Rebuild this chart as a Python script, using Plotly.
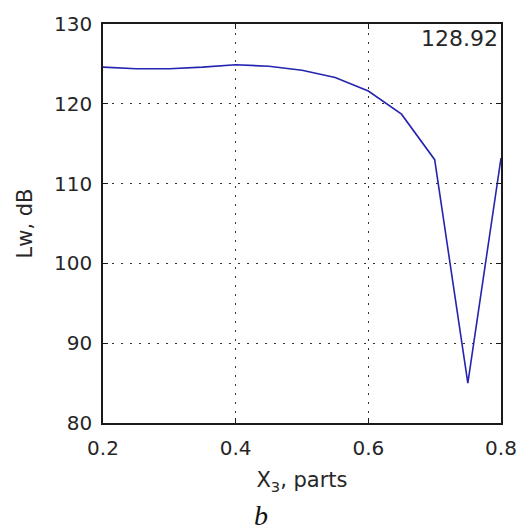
import plotly.graph_objects as go

# Sound power level versus the X3 fraction
x3_parts = [0.2, 0.25, 0.3, 0.35, 0.4, 0.45, 0.5, 0.55, 0.6, 0.65, 0.7, 0.75, 0.8]
lw_db = [124.6, 124.4, 124.4, 124.6, 124.9, 124.7, 124.2, 123.3, 121.6, 118.7, 113.0, 85.0, 113.2]

x_ticks = [0.2, 0.4, 0.6, 0.8]
y_ticks = [80, 90, 100, 110, 120, 130]
peak_label = "128.92"

FONT = "DejaVu Sans"
TEXT_COLOR = "#262626"

fig = go.Figure()
fig.add_trace(go.Scatter(
    x=x3_parts, y=lw_db, mode="lines",
    line=dict(color="#2424b0", width=1.6),
    showlegend=False,
))

axis_common = dict(
    showline=True, linecolor="#1a1a1a", linewidth=1.6, mirror="ticks",
    ticks="inside", ticklen=5, tickcolor="#1a1a1a", tickwidth=1.2,
    showgrid=True, gridcolor="#333333", gridwidth=1, griddash="2px,7px",
    zeroline=False,
    tickfont=dict(family=FONT, size=20, color=TEXT_COLOR),
)

fig.update_xaxes(
    range=[0.2, 0.8], tickvals=x_ticks, ticktext=[f"{v:g}" for v in x_ticks],
    ticklabelstandoff=6,
    title=dict(text="X<sub>3</sub>, parts", font=dict(family=FONT, size=21, color=TEXT_COLOR), standoff=14),
    **axis_common,
)
fig.update_yaxes(
    range=[80, 130], tickvals=y_ticks,
    ticklabelstandoff=5,
    title=dict(text="Lw, dB", font=dict(family=FONT, size=21, color=TEXT_COLOR), standoff=16),
    **axis_common,
)

fig.add_annotation(
    xref="paper", yref="paper", x=1, y=1, xanchor="right", yanchor="top",
    text=peak_label, showarrow=False, xshift=-1, yshift=0,
    font=dict(family=FONT, size=22, color=TEXT_COLOR),
)
fig.add_annotation(
    xref="paper", yref="paper", x=0.396, y=-0.233, xanchor="center", yanchor="middle",
    text="<i>b</i>", showarrow=False,
    font=dict(family="Liberation Serif", size=28, color="#111111"),
)

fig.update_layout(
    width=529, height=531,
    margin=dict(l=103, r=24, t=20, b=108),
    paper_bgcolor="white", plot_bgcolor="white",
)

fig.write_html("out.html")
